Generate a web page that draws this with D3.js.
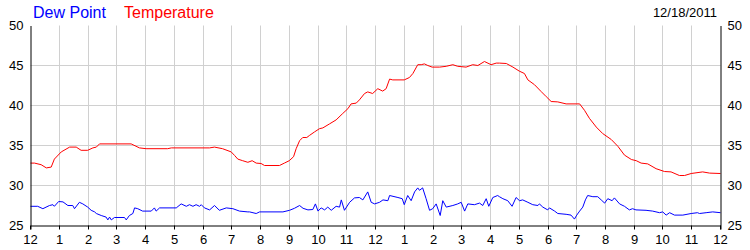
<!DOCTYPE html>
<html>
<head>
<meta charset="utf-8">
<script src="https://d3js.org/d3.v7.min.js"></script>
<style>
body { margin: 0; background: #fff; }
svg { font-family: "Liberation Sans", Arial, sans-serif; }
.grid line { stroke: #d0d0d0; }
.grid path { display: none; }
</style>
</head>
<body>
<svg id="chart" width="750" height="250"></svg>
<script>
// hours since midnight
var tempHours = [0,0.14,0.37,0.55,0.72,0.83,1.07,1.36,1.59,1.76,1.99,2.17,2.29,2.4,3.5,3.79,4.02,4.77,4.9,6.23,6.4,6.68,6.98,7.1,7.21,7.38,7.56,7.71,7.85,8.02,8.14,8.66,8.83,9.0,9.15,9.24,9.36,9.47,9.61,9.7,9.88,10.05,10.17,10.4,10.63,10.86,11.04,11.15,11.33,11.44,11.62,11.73,11.9,12.08,12.25,12.37,12.49,12.6,13.0,13.18,13.3,13.47,13.59,13.7,13.82,13.97,14.23,14.46,14.69,14.86,15.15,15.38,15.56,15.79,16.02,16.2,16.31,16.55,16.78,17.0,17.18,17.3,17.53,17.76,17.94,18.11,18.34,18.63,19.1,19.27,19.44,19.68,19.9,20.2,20.43,20.66,20.9,21.07,21.24,21.47,21.76,22.05,22.28,22.57,22.75,22.98,23.38,23.62,24];
var tempValues = [32.8,32.8,32.6,32.2,32.3,33.3,34.2,34.8,34.8,34.4,34.4,34.7,34.8,35.2,35.2,34.7,34.6,34.6,34.7,34.7,34.8,34.6,34.2,33.75,33.3,33.1,32.9,33.1,32.8,32.75,32.5,32.5,32.8,33.1,33.6,34.6,35.6,36.0,36.0,36.25,36.7,37.1,37.2,37.7,38.2,39.0,39.6,40.2,40.3,40.7,41.5,41.7,41.5,42.1,41.8,42.1,43.3,43.2,43.2,43.5,44.0,45.1,45.1,45.2,45.0,44.8,44.8,44.9,45.1,44.9,44.8,45.1,45.0,45.5,45.1,45.3,45.3,45.25,44.8,44.3,44.0,43.2,42.6,41.75,41.1,40.5,40.45,40.2,40.2,39.4,38.4,37.3,36.5,35.75,34.9,33.8,33.25,33.1,32.8,32.7,32.1,31.75,31.7,31.25,31.25,31.5,31.7,31.55,31.5];

var dewHours = [0,0.25,0.43,0.66,0.78,0.83,0.98,1.13,1.3,1.47,1.53,1.7,1.82,1.99,2.11,2.23,2.29,2.46,2.63,2.69,2.75,2.81,2.92,3.27,3.33,3.44,3.56,3.62,3.73,3.9,4.2,4.31,4.37,4.49,5.07,5.24,5.42,5.53,5.65,5.76,5.88,5.94,6.05,6.23,6.4,6.57,6.81,7.04,7.27,7.56,7.62,7.85,7.97,8.78,9.01,9.18,9.36,9.48,9.65,9.82,9.91,10.0,10.11,10.23,10.34,10.46,10.63,10.75,10.81,10.92,11.1,11.27,11.44,11.56,11.73,11.85,11.97,12.14,12.26,12.43,12.49,12.78,12.93,13.0,13.12,13.24,13.36,13.47,13.53,13.64,13.76,13.88,13.99,14.11,14.25,14.34,14.46,14.69,14.86,14.98,15.1,15.21,15.44,15.62,15.73,15.85,15.94,16.08,16.25,16.31,16.43,16.6,16.75,16.89,17.01,17.12,17.3,17.47,17.65,17.7,17.82,17.99,18.05,18.23,18.34,18.63,18.8,18.92,19.0,19.1,19.21,19.3,19.38,19.56,19.73,19.85,19.97,20.08,20.23,20.31,20.49,20.66,20.83,20.94,21.06,21.41,21.64,21.88,21.99,22.11,22.23,22.4,22.69,22.98,23.2,23.27,23.5,23.73,24];
var dewValues = [27.4,27.4,27.1,27.5,27.6,27.4,28.0,27.95,27.5,27.5,27.1,27.9,27.7,27.3,26.9,26.7,26.5,26.25,26.05,25.7,26.05,25.7,26.0,26.0,25.7,26.25,26.5,27.2,27.1,26.8,26.8,27.2,26.8,27.2,27.2,27.7,27.4,27.6,27.4,27.6,27.4,27.6,27.2,26.95,27.5,26.9,27.2,27.1,26.8,26.7,26.7,26.5,26.7,26.7,26.9,27.15,27.5,27.15,26.95,27.0,27.7,26.8,27.2,26.95,27.3,26.9,27.4,27.3,28.2,26.9,27.9,28.45,28.5,28.2,29.2,27.9,27.7,27.9,28.2,28.1,28.75,28.5,28.35,27.6,28.75,28.1,29.2,29.7,29.4,29.7,28.35,26.9,27.1,27.7,26.25,28.1,27.3,27.5,27.7,27.9,26.8,27.7,27.6,27.8,27.5,28.35,27.4,28.5,28.75,28.6,28.35,28.1,27.4,28.5,28.1,28.2,27.9,27.6,27.5,27.7,27.3,26.95,27.2,26.8,26.5,26.4,26.3,25.8,26.3,26.8,27.3,28.2,28.75,28.6,28.6,28.2,27.8,28.35,28.1,28.45,27.7,27.4,26.95,27.1,26.95,26.9,26.8,26.6,26.7,26.3,26.6,26.3,26.3,26.5,26.6,26.5,26.6,26.7,26.6];

var hourTicks = d3.range(0, 25);
var hourLabels = ["12","1","2","3","4","5","6","7","8","9","10","11","12","1","2","3","4","5","6","7","8","9","10","11","12"];
var valueTicks = [25, 30, 35, 40, 45, 50];
var gridValues = [30, 35, 40, 45];
var chartDate = "12/18/2011";

var svg = d3.select("#chart");
var plotLeft = 30.5, plotRight = 720.5, plotTop = 25.5, plotBottom = 225.5;

var x = d3.scaleLinear().domain([0, 24]).range([plotLeft, plotRight]);
var y = d3.scaleLinear().domain([25, 50]).range([plotBottom, plotTop]);

function snap(v) { return Math.round(v - 0.5) + 0.5; }

// vertical grid
svg.append("g").attr("class", "grid")
	.attr("transform", "translate(0," + plotBottom + ")")
	.call(d3.axisBottom(x).tickValues(hourTicks.slice(1, -1)).tickSize(-(plotBottom - plotTop)).tickFormat(""))
	.selectAll(".tick").attr("transform", function(d) { return "translate(" + snap(x(d)) + ",0)"; });

// horizontal grid
svg.append("g").attr("class", "grid")
	.attr("transform", "translate(" + plotLeft + ",0)")
	.call(d3.axisLeft(y).tickValues(gridValues).tickSize(-(plotRight - plotLeft)).tickFormat(""))
	.selectAll(".tick").attr("transform", function(d) { return "translate(0," + snap(y(d)) + ")"; });

// lines
var lineGen = d3.line()
	.x(function(d) { return x(d[0]); })
	.y(function(d) { return y(d[1]); });

svg.append("path")
	.datum(d3.zip(dewHours, dewValues))
	.attr("fill", "none").attr("stroke", "#0000ff").attr("stroke-width", 1)
	.attr("d", lineGen);

svg.append("path")
	.datum(d3.zip(tempHours, tempValues))
	.attr("fill", "none").attr("stroke", "#ff0000").attr("stroke-width", 1)
	.attr("d", lineGen);

// axes
var bottomAxis = svg.append("g")
	.attr("transform", "translate(0," + plotBottom + ")")
	.call(d3.axisBottom(x).tickValues(hourTicks).tickSizeOuter(0).tickSize(4).tickPadding(5)
		.tickFormat(function(d, i) { return hourLabels[i]; }));
bottomAxis.selectAll(".tick").attr("transform", function(d) { return "translate(" + snap(x(d)) + ",0)"; });

var leftAxis = svg.append("g")
	.attr("transform", "translate(" + plotLeft + ",0)")
	.call(d3.axisLeft(y).tickValues(valueTicks).tickSize(0).tickSizeOuter(0).tickPadding(7));

var rightAxis = svg.append("g")
	.attr("transform", "translate(" + plotRight + ",0)")
	.call(d3.axisRight(y).tickValues(valueTicks).tickSize(0).tickSizeOuter(0).tickPadding(7));

svg.selectAll(".tick text").attr("font-size", 13).attr("font-family", "Liberation Sans, Arial, sans-serif").attr("fill", "#000");

// legend
svg.append("text").attr("x", 33).attr("y", 18).attr("font-size", 16).attr("fill", "#0000ff").text("Dew Point");
svg.append("text").attr("x", 124).attr("y", 18).attr("font-size", 16).attr("fill", "#ff0000").text("Temperature");
svg.append("text").attr("x", 717).attr("y", 17).attr("font-size", 13).attr("text-anchor", "end").attr("fill", "#000").text(chartDate);
</script>
</body>
</html>
